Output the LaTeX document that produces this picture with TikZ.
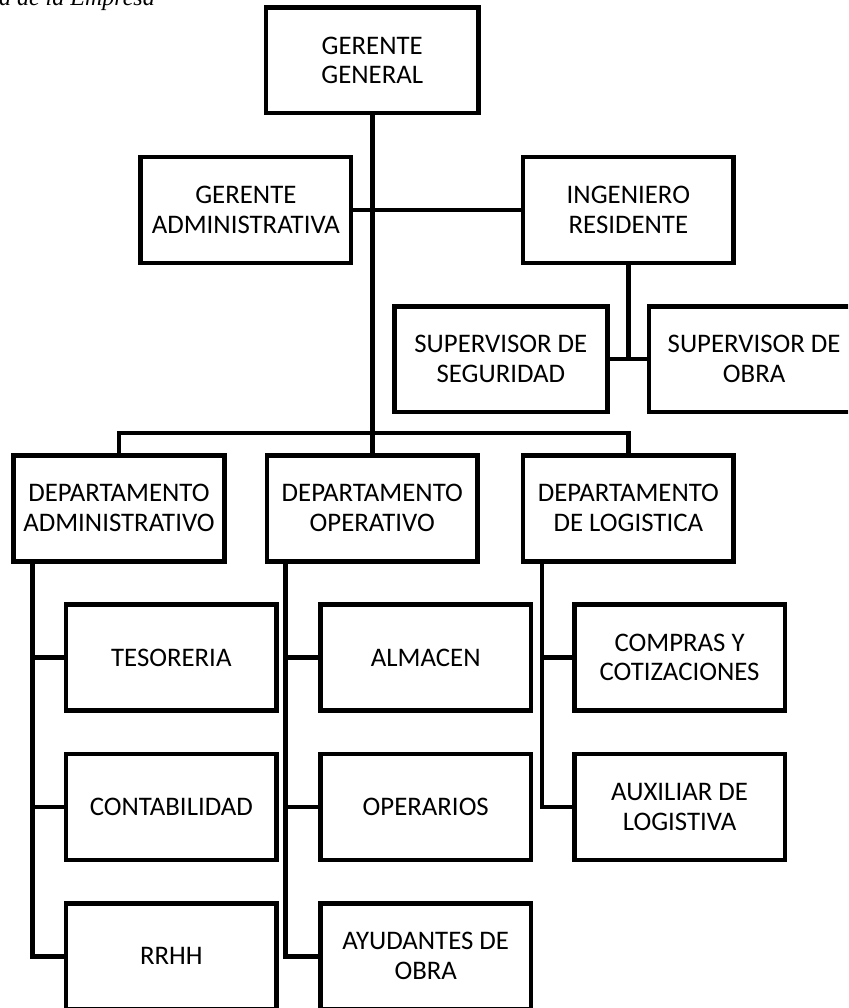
\documentclass[tikz,border=0pt]{standalone}
\usepackage{fontspec}
\setmainfont{Carlito}
\newfontfamily\titlefont{Liberation Serif}
\usetikzlibrary{calc}

\begin{document}
\begin{tikzpicture}[line width=2.3pt]

% debugging grid
% \draw[step=5mm,gray,very thin] (0,-180mm) grid (150mm,0);

\useasboundingbox (0,0) rectangle (149mm,-177.1mm);
\clip (0,0) rectangle (149mm,-177.1mm);

% Boxes
\tikzstyle{box}=[draw, line width=2.3pt, minimum width=37mm, minimum height=18.6mm, inner sep=0pt, align=center, font=\fontsize{13.4pt}{14.9pt}\selectfont]

%%%%%%%%%%%%%%%%%%%%%%%%%%%%%%%%%%%%%%%%%%%%%%%%%%%%%%%%%%%%%%%%%%%%
%
%        Title (cut at the top)
%
\node (title) [anchor=base east, inner sep=0pt, font={\titlefont\itshape\fontsize{12pt}{14pt}\selectfont}] at (27.6mm,-0.9mm) {a de la Empresa};

%%%%%%%%%%%%%%%%%%%%%%%%%%%%%%%%%%%%%%%%%%%%%%%%%%%%%%%%%%%%%%%%%%%%
%
%        Gerencia
%
\node (gg)   [box, minimum width=37.3mm, minimum height=18.5mm] at (65.4mm,-10.6mm) {GERENTE\\GENERAL};
\node (ga)   [box] at ( 43.2mm,-36.9mm) {GERENTE\\ADMINISTRATIVA};
\node (ir)   [box] at (110.4mm,-36.9mm) {INGENIERO\\RESIDENTE};
\node (sseg) [box, minimum width=37.4mm] at ( 88.0mm,-63.1mm) {SUPERVISOR DE\\SEGURIDAD};
\node (sobr) [box] at (132.5mm,-63.1mm) {SUPERVISOR DE\\OBRA};

%%%%%%%%%%%%%%%%%%%%%%%%%%%%%%%%%%%%%%%%%%%%%%%%%%%%%%%%%%%%%%%%%%%%
%
%        Departamentos
%
\node (dadm) [box] at ( 20.9mm,-89.3mm) {DEPARTAMENTO\\ADMINISTRATIVO};
\node (dope) [box] at ( 65.4mm,-89.3mm) {DEPARTAMENTO\\OPERATIVO};
\node (dlog) [box] at (110.4mm,-89.3mm) {DEPARTAMENTO\\DE LOGISTICA};

% areas
\node (tes)  [box] at ( 30.1mm,-115.5mm) {TESORERIA};
\node (cont) [box] at ( 30.1mm,-141.8mm) {CONTABILIDAD};
\node (rrhh) [box] at ( 30.1mm,-168.0mm) {RRHH};
\node (alm)  [box] at ( 74.8mm,-115.5mm) {ALMACEN};
\node (oper) [box] at ( 74.8mm,-141.8mm) {OPERARIOS};
\node (ayu)  [box] at ( 74.8mm,-168.0mm) {AYUDANTES DE\\OBRA};
\node (comp) [box] at (119.4mm,-115.5mm) {COMPRAS Y\\COTIZACIONES};
\node (aux)  [box] at (119.4mm,-141.8mm) {AUXILIAR DE\\LOGISTIVA};

%%%%%%%%%%%%%%%%%%%%%%%%%%%%%%%%%%%%%%%%%%%%%%%%%%%%%%%%%%%%%%%%%%%%
%
%        Lines
%
\coordinate (bus) at (65.4mm,-76.1mm);
\coordinate (ta)  at ($(dadm.south west)+(3.7mm,0)$);
\coordinate (to)  at ($(dope.south west)+(3.7mm,0)$);
\coordinate (tl)  at ($(dlog.south west)+(3.7mm,0)$);

\draw (gg.south) -- (dope.north);
\draw (ga.east) -- (ir.west);
\draw (ir.south) -- (ir.south |- sseg.east);
\draw (sseg.east) -- (sobr.west);
\draw (dadm.north) |- (bus) -| (dlog.north);

% admin
\draw (ta) |- (rrhh.west);
\draw (tes.west)  -- (tes.west -| ta);
\draw (cont.west) -- (cont.west -| ta);
% operativo
\draw (to) |- (ayu.west);
\draw (alm.west)  -- (alm.west -| to);
\draw (oper.west) -- (oper.west -| to);
% logistica
\draw (tl) |- (aux.west);
\draw (comp.west) -- (comp.west -| tl);

\end{tikzpicture}
\end{document}
